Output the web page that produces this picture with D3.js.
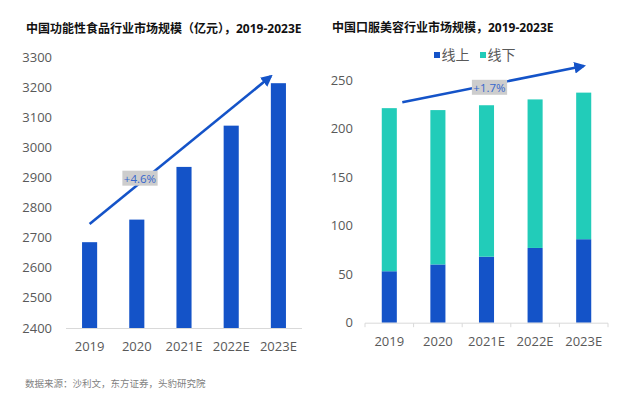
<!DOCTYPE html>
<html>
<head>
<meta charset="utf-8">
<script src="https://cdn.jsdelivr.net/npm/d3@7"></script>
<style>
  body { margin: 0; background: #fff; }
  text { font-family: "Open Sans", "Noto Sans CJK SC", sans-serif; }
</style>
</head>
<body>
<script>
// data
var years = ["2019", "2020", "2021E", "2022E", "2023E"];
var foodValues = [2685, 2760, 2935, 3072, 3213];          // 亿元
var foodTicks = [2400, 2500, 2600, 2700, 2800, 2900, 3000, 3100, 3200, 3300];
var beautyOnline = [53, 60, 68, 77, 86];
var beautyOffline = [168, 159, 156, 153, 151];
var beautyTicks = [0, 50, 100, 150, 200, 250];
var seriesNames = ["线上", "线下"];

var blue = "#1453c8";
var teal = "#22ccb9";

var W = 622, H = 397;
var svg = d3.select("body").append("svg")
    .attr("width", W)
    .attr("height", H);

svg.append("defs").append("marker")
    .attr("id", "head")
    .attr("viewBox", "0 0 10 10")
    .attr("refX", 8).attr("refY", 5)
    .attr("markerWidth", 4.5).attr("markerHeight", 4.5)
    .attr("orient", "auto")
    .append("path")
    .attr("d", "M0,0 L10,5 L0,10 Z")
    .attr("fill", blue);

// draws the growth arrow plus the gray CAGR label
function growthArrow(g, x1, y1, x2, y2, label, lx, ly) {
    g.append("line")
        .attr("x1", x1).attr("y1", y1)
        .attr("x2", x2).attr("y2", y2)
        .attr("stroke", blue)
        .attr("stroke-width", 2.6)
        .attr("marker-end", "url(#head)");
    var t = g.append("text")
        .attr("x", lx).attr("y", ly)
        .attr("dy", "0.35em")
        .attr("text-anchor", "middle")
        .attr("font-size", 11.5)
        .attr("fill", "#3566cc")
        .text(label);
    var bb = t.node().getBBox();
    g.insert("rect", function() { return t.node(); })
        .attr("x", bb.x - 1.5).attr("y", bb.y)
        .attr("width", bb.width + 3).attr("height", bb.height)
        .attr("fill", "#cdcdcd");
}

/* ---------- left: 功能性食品 ---------- */
var left = svg.append("g");

left.append("text")
    .attr("x", 26).attr("y", 33)
    .attr("font-size", 12)
    .attr("font-weight", "bold")
    .attr("fill", "#111")
    .text("中国功能性食品行业市场规模（亿元），2019-2023E");

var x1 = d3.scaleBand().domain(years).range([66, 302]).paddingInner(0.68).paddingOuter(0.34);
var y1 = d3.scaleLinear().domain([2400, 3300]).range([328, 57]);

left.selectAll("text.ytick")
    .data(foodTicks)
    .enter().append("text")
    .attr("class", "ytick")
    .attr("x", 52)
    .attr("y", function(d) { return y1(d); })
    .attr("dy", "0.35em")
    .attr("text-anchor", "end")
    .attr("font-size", 13)
    .attr("fill", "#595959")
    .text(function(d) { return d; });

left.selectAll("rect.bar")
    .data(foodValues)
    .enter().append("rect")
    .attr("class", "bar")
    .attr("x", function(d, i) { return x1(years[i]); })
    .attr("y", function(d) { return y1(d); })
    .attr("width", x1.bandwidth())
    .attr("height", function(d) { return y1(2400) - y1(d); })
    .attr("fill", blue);

left.append("line")
    .attr("x1", 66).attr("x2", 302)
    .attr("y1", y1(2400) + 0.5).attr("y2", y1(2400) + 0.5)
    .attr("stroke", "#d9d9d9");

left.selectAll("text.xtick")
    .data(years)
    .enter().append("text")
    .attr("class", "xtick")
    .attr("x", function(d) { return x1(d) + x1.bandwidth() / 2; })
    .attr("y", 346)
    .attr("dy", "0.35em")
    .attr("text-anchor", "middle")
    .attr("font-size", 13)
    .attr("fill", "#595959")
    .text(function(d) { return d; });

growthArrow(left,
    x1("2019") + x1.bandwidth() / 2, y1(2745),
    x1("2023E"), y1(3236),
    "+4.6%", 140, y1(2896));

/* ---------- right: 口服美容 ---------- */
var right = svg.append("g");

right.append("text")
    .attr("x", 332).attr("y", 32)
    .attr("font-size", 12)
    .attr("font-weight", "bold")
    .attr("fill", "#111")
    .text("中国口服美容行业市场规模，2019-2023E");

var x2 = d3.scaleBand().domain(years).range([365, 608]).paddingInner(0.69).paddingOuter(0.345);
var y2 = d3.scaleLinear().domain([0, 250]).range([322.7, 80]);

right.selectAll("text.ytick")
    .data(beautyTicks)
    .enter().append("text")
    .attr("class", "ytick")
    .attr("x", 353)
    .attr("y", function(d) { return y2(d); })
    .attr("dy", "0.35em")
    .attr("text-anchor", "end")
    .attr("font-size", 13)
    .attr("fill", "#595959")
    .text(function(d) { return d; });

var stackData = years.map(function(y, i) {
    return { year: y, "线上": beautyOnline[i], "线下": beautyOffline[i] };
});
var stacked = d3.stack().keys(seriesNames)(stackData);
var colors = d3.scaleOrdinal().domain(seriesNames).range([blue, teal]);

right.selectAll("g.layer")
    .data(stacked)
    .enter().append("g")
    .attr("class", "layer")
    .attr("fill", function(d) { return colors(d.key); })
    .selectAll("rect")
    .data(function(d) { return d; })
    .enter().append("rect")
    .attr("x", function(d) { return x2(d.data.year); })
    .attr("y", function(d) { return y2(d[1]); })
    .attr("width", x2.bandwidth())
    .attr("height", function(d) { return y2(d[0]) - y2(d[1]); });

var xAxis2 = right.append("g")
    .attr("transform", "translate(0," + (y2(0) + 0.5) + ")");
xAxis2.append("line")
    .attr("x1", 365).attr("x2", 608)
    .attr("stroke", "#d9d9d9");
var edges = years.map(function(d) { return x2(d) - x2.step() * x2.paddingInner() / 2; });
edges.push(608);
edges[0] = 365;
xAxis2.selectAll("line.tick")
    .data(edges)
    .enter().append("line")
    .attr("class", "tick")
    .attr("x1", function(d) { return d; })
    .attr("x2", function(d) { return d; })
    .attr("y1", 0).attr("y2", 4)
    .attr("stroke", "#d9d9d9");

right.selectAll("text.xtick")
    .data(years)
    .enter().append("text")
    .attr("class", "xtick")
    .attr("x", function(d) { return x2(d) + x2.bandwidth() / 2; })
    .attr("y", 341)
    .attr("dy", "0.35em")
    .attr("text-anchor", "middle")
    .attr("font-size", 13)
    .attr("fill", "#595959")
    .text(function(d) { return d; });

// legend
var legend = right.selectAll("g.legend")
    .data(seriesNames)
    .enter().append("g")
    .attr("class", "legend")
    .attr("transform", function(d, i) { return "translate(" + (434 + i * 46) + ",55)"; });
legend.append("rect")
    .attr("x", 0).attr("y", -3)
    .attr("width", 6).attr("height", 6)
    .attr("fill", function(d) { return colors(d); });
legend.append("text")
    .attr("x", 7.5)
    .attr("dy", "0.35em")
    .attr("font-size", 14)
    .attr("fill", "#595959")
    .text(function(d) { return d; });

growthArrow(right,
    x2("2019") + x2.bandwidth() / 2 + 13, y2(227),
    x2("2023E") + x2.bandwidth() / 2, y2(264.5),
    "+1.7%", 489.5, y2(242));

// source
svg.append("text")
    .attr("x", 25).attr("y", 384)
    .attr("dy", "0.35em")
    .attr("font-size", 9.5)
    .attr("fill", "#7f7f7f")
    .text("数据来源：沙利文，东方证券，头豹研究院");
</script>
</body>
</html>
